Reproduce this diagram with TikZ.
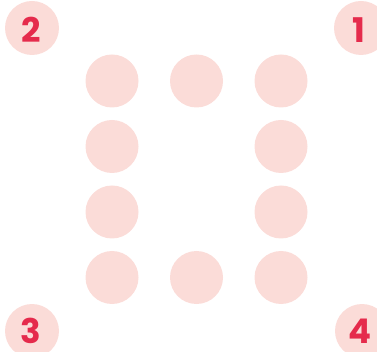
\documentclass[tikz,border=0pt]{standalone}
\usepackage{fontspec}
\setmainfont{Poppins}
\definecolor{dotpink}{HTML}{FBDCD8}
\definecolor{numred}{HTML}{E52B4C}
\begin{document}
\begin{tikzpicture}[x=1pt,y=-1pt,
  dot/.style={circle,fill=dotpink,draw=none,minimum size=53pt,inner sep=0pt},
  corner/.style={circle,fill=dotpink,draw=none,minimum size=54pt,inner sep=0pt},
  num/.style={inner sep=0pt,anchor=base,text=numred,font=\fontsize{34}{34}\selectfont\bfseries}]
\useasboundingbox (0,0) rectangle (377,352);
% grid
\node[dot] (a1) at (112,81) {};
\node[dot] (a2) at (196.5,81) {};
\node[dot] (a3) at (281,81) {};
\node[dot] (b1) at (112,146.5) {};
\node[dot] (b3) at (281,146.5) {};
\node[dot] (c1) at (112,212) {};
\node[dot] (c3) at (281,212) {};
\node[dot] (d1) at (112,277.5) {};
\node[dot] (d2) at (196.5,277.5) {};
\node[dot] (d3) at (281,277.5) {};
% corners
\node[corner] (c2) at (32,28) {};
\node[corner] (cc1) at (361,28) {};
\node[corner] (cc3) at (32,331) {};
\node[corner] (cc4) at (362,331) {};
\node[num] (n2) at (31,43) {2};
\node[num] (n1) at (359,43) {1};
\node[num] (n3) at (31,343) {3};
\node[num] (n4) at (360,343) {4};
\end{tikzpicture}
\end{document}
